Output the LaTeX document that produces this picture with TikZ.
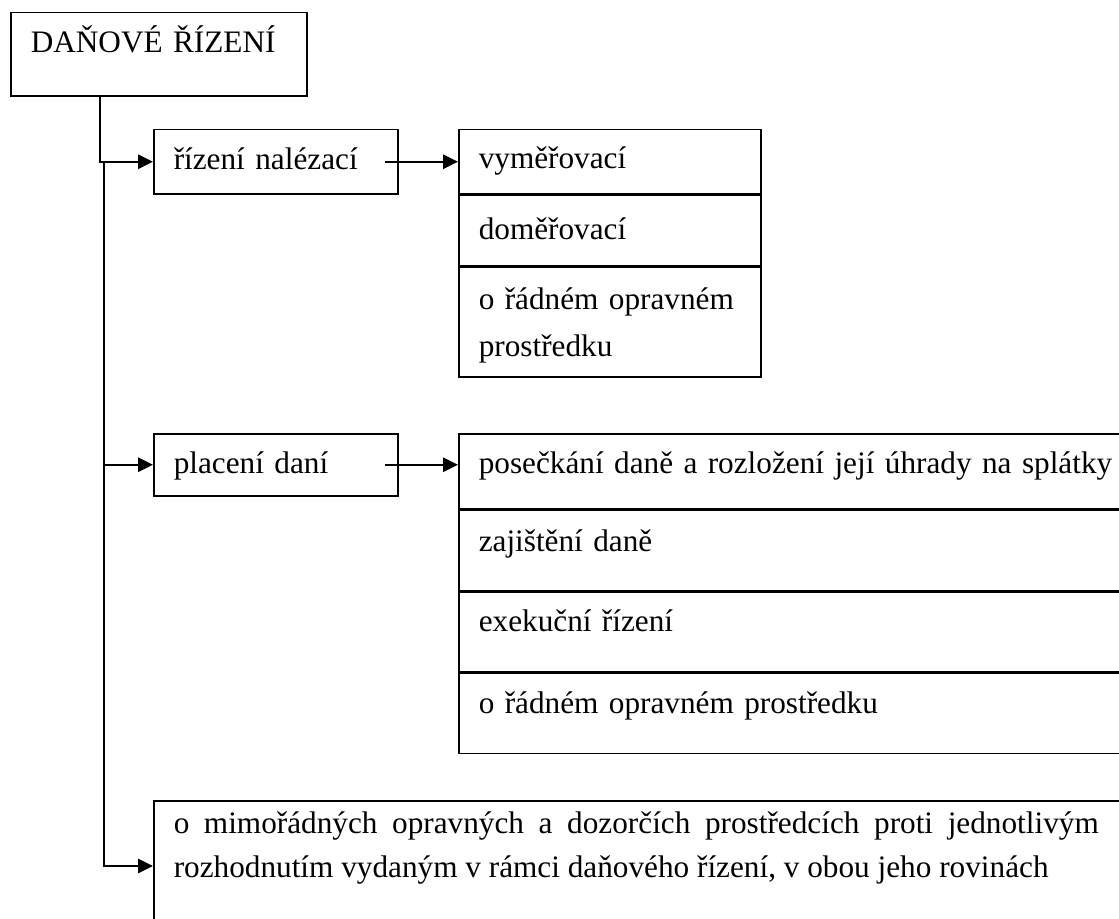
\documentclass[tikz,border=0pt]{standalone}
\usepackage{fontspec}
\setmainfont{Liberation Serif}
\usetikzlibrary{arrows.meta}

\begin{document}
\begin{tikzpicture}[x=0.4pt,y=-0.4pt,line width=0.6pt,>={Triangle[length=6pt,width=5.8pt]},
        font=\fontsize{12.5pt}{18.6pt}\selectfont]
        \tikzstyle{box}=[draw,rectangle,anchor=north west,inner xsep=8pt,inner ysep=0pt,align=left]
        \tikzstyle{branch}=[box,text width=81.6pt,text height=16pt]
        \tikzstyle{cellA}=[box,text width=104.8pt]
        \tikzstyle{cellB}=[box,text width=264.8pt,text height=16pt]

        \path[use as bounding box,clip] (0,0) rectangle (1119,919);

        % Draw the root box
        \node[box,text width=102.4pt,text height=16pt,text depth=17.2pt] (dr) at (10,12) {DAŇOVÉ ŘÍZENÍ};

        % Draw the two branch boxes
        \node[branch,text depth=9.6pt] (nal) at (153,129) {řízení nalézací};
        \node[branch,text depth=8.8pt] (plac) at (153,433) {placení daní};

        % Cells right of the first branch
        \node[cellA,text height=15.6pt,text depth=10pt] (V-1) at (458,129) {vyměřovací};
        \node[cellA,text height=17.6pt,text depth=10.4pt] (V-2) at (V-1.south west) {doměřovací};
        \node[cellA,text height=17.2pt,text depth=26.8pt] (V-3) at (V-2.south west) {o řádném opravném\\prostředku};

        % Cells right of the second branch
        \node[cellB,text depth=14pt] (P-1) at (458,433) {posečkání daně a rozložení její úhrady na splátky};
        \node[cellB,text height=16.4pt,text depth=15.6pt] (P-2) at (P-1.south west) {zajištění daně};
        \foreach \name/\prev/\txt in {3/2/exekuční řízení,4/3/o řádném opravném prostředku}
            \node[cellB,text depth=16pt] (P-\name) at (P-\prev.south west) {\txt};

        % The last branch, wider than the page
        \node[box,align=justify,text width=390pt,text height=13.2pt,text depth=46.8pt] (mim) at (153,800)
            {\parbox[t]{370pt}{\fontsize{12.5pt}{17.6pt}\selectfont
             o mimořádných opravných a dozorčích prostředcích proti jednotlivým\linebreak
             rozhodnutím vydaným v rámci daňového řízení, v obou jeho rovinách%
             \leftskip=0pt\rightskip=0pt\parfillskip=0pt plus 1fil}};

        % Connect the tree
        \coordinate (fork) at (104,162);
        \coordinate (mim-in) at ([yshift=-26.4pt]mim.north west);
        \draw[->] ([xshift=36pt]dr.south west) |- (nal.west);
        \draw[->] (fork) |- (plac.west);
        \draw[->] (fork) |- (mim-in);
        \draw[->] ([xshift=-5.6pt]nal.east) -- (V-1.west);
        \draw[->] ([xshift=-5.6pt]plac.east) -- (plac.east -| P-1.west);
\end{tikzpicture}
\end{document}
